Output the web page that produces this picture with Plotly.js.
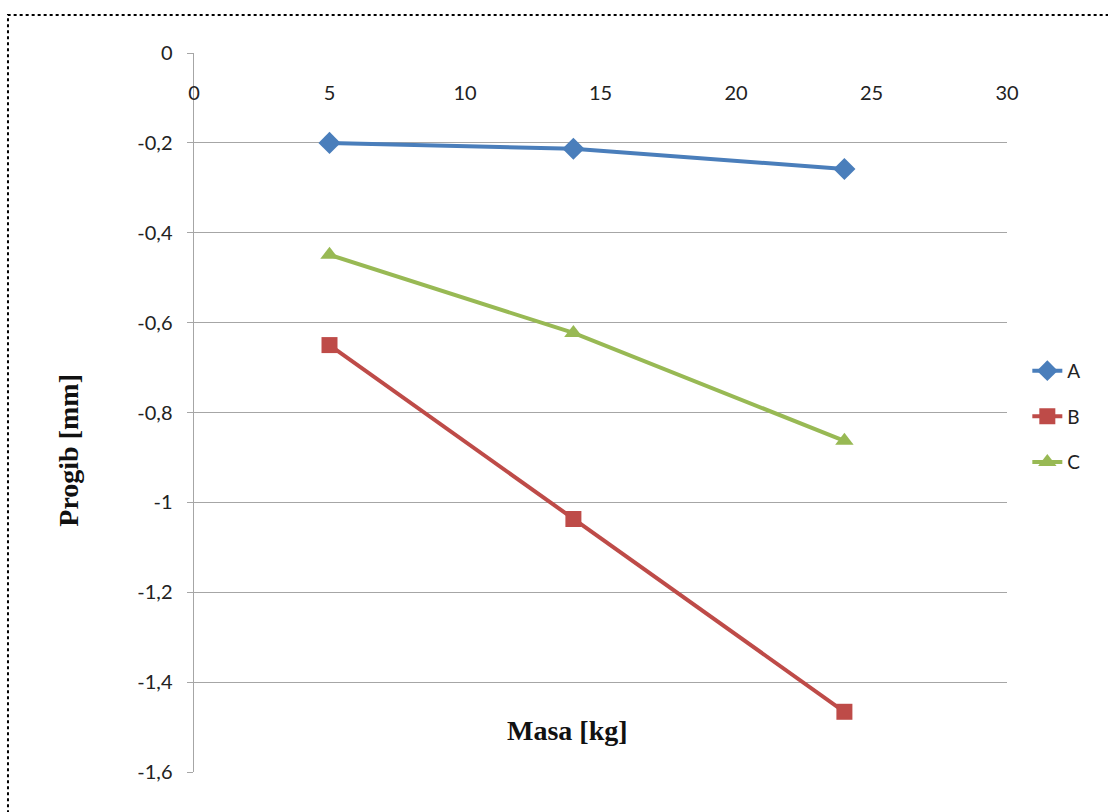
<!DOCTYPE html>
<html><head><meta charset="utf-8">
<script src="https://cdn.plot.ly/plotly-3.0.1.min.js"></script>
<style>html,body{margin:0;padding:0;background:#fff}#chart{width:1108px;height:812px}</style>
</head><body><div id="chart"></div>
<script>
const masa = [5, 14, 24];
const seriesA = [-0.2, -0.213, -0.258];
const seriesB = [-0.65, -1.037, -1.466];
const seriesC = [-0.449, -0.623, -0.863];
const xTicks = [0, 5, 10, 15, 20, 25, 30];
const yTicks = [0, -0.2, -0.4, -0.6, -0.8, -1, -1.2, -1.4, -1.6];
const yTickText = ['0', '-0,2', '-0,4', '-0,6', '-0,8', '-1', '-1,2', '-1,4', '-1,6'];

const mk = (name, y, color, symbol, size) => ({
  x: masa, y: y, name: name, type: 'scatter', mode: 'lines+markers',
  legendgroup: name,
  line: {color: color, width: 4},
  marker: {color: color, symbol: symbol, size: size}
});
const data = [
  mk('A', seriesA, '#4a7ebb', 'diamond', 17),
  mk('B', seriesB, '#be4b48', 'square', 16),
  mk('C', seriesC, '#98b954', 'triangle-up', 16)
];
const tickFont = {family: 'Lato, "Open Sans", sans-serif', size: 20, color: '#222'};
const layout = {
  width: 1108, height: 812,
  margin: {l: 194, r: 101, t: 53, b: 40},
  separators: ', ',
  paper_bgcolor: '#fff', plot_bgcolor: '#fff',
  showlegend: true,
  legend: {x: 1.025, y: 0.494, xanchor: 'left', yanchor: 'middle',
    font: {family: 'Lato, "Open Sans", sans-serif', size: 19, color: '#222'},
    traceorder: 'grouped', tracegroupgap: 18, itemwidth: 30, bgcolor: 'rgba(0,0,0,0)'},
  xaxis: {range: [0, 30], tickvals: xTicks, ticktext: xTicks.map(String),
    showgrid: false, zeroline: false, showline: false, ticks: '',
    anchor: 'free', position: 0.964, side: 'bottom', tickfont: tickFont},
  yaxis: {range: [-1.6, 0], tickvals: yTicks, ticktext: yTickText,
    showgrid: true, gridcolor: '#a6a6a6', gridwidth: 1,
    zeroline: false, showline: true, linecolor: '#a6a6a6', linewidth: 1.5,
    ticks: 'outside', ticklen: 6, tickcolor: '#a6a6a6', ticklabelstandoff: 10,
    tickfont: tickFont},
  annotations: [
    {text: '<b>Progib [mm]</b>', xref: 'paper', yref: 'paper', x: -0.154, y: 0.448,
     textangle: -90, showarrow: false, xanchor: 'center', yanchor: 'middle',
     font: {family: '"Liberation Serif", "Times New Roman", serif', size: 28, color: '#111'}},
    {text: '<b>Masa [kg]</b>', xref: 'paper', yref: 'paper', x: 0.460, y: 0.058,
     showarrow: false, xanchor: 'center', yanchor: 'middle',
     font: {family: '"Liberation Serif", "Times New Roman", serif', size: 28, color: '#111'}}
  ],
  shapes: [
    {type: 'rect', xref: 'paper', yref: 'paper', x0: -0.2288, x1: 1.3, y0: -0.2, y1: 1.0529,
     line: {color: '#000', width: 2, dash: 'dot'}, fillcolor: 'rgba(0,0,0,0)', layer: 'below'}
  ]
};
Plotly.newPlot('chart', data, layout, {displayModeBar: false, staticPlot: true});
</script></body></html>
